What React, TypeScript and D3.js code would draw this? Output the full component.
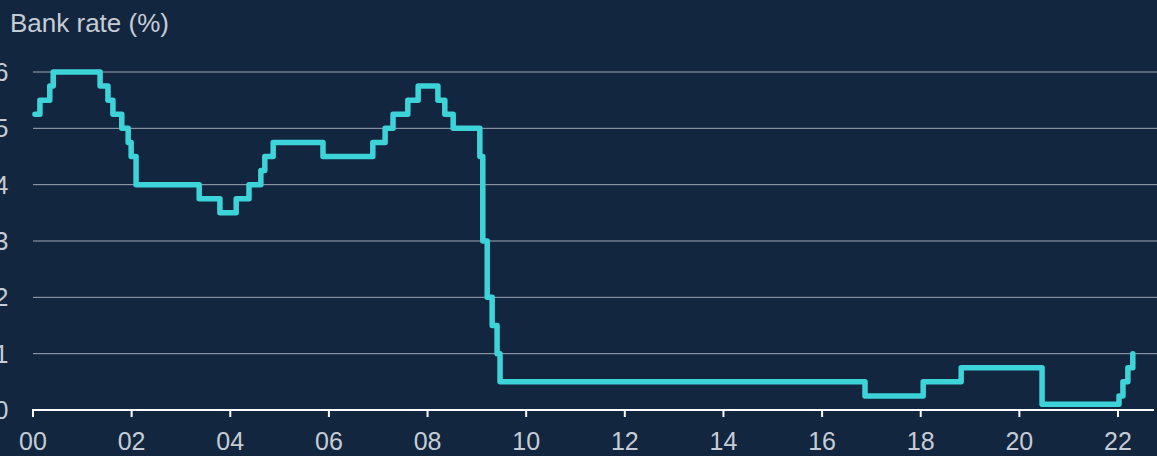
import React from "react";
import * as d3 from "d3";

// Years since 2000 at which the bank rate changed, and the new rate
const changeYears = [0.04, 0.14, 0.34, 0.41, 1.36, 1.52, 1.62, 1.80, 1.93, 1.99, 2.09, 3.37, 3.79, 4.12, 4.38, 4.62, 4.70, 4.87, 5.88, 6.89, 7.14, 7.30, 7.60, 7.81, 8.21, 8.35, 8.52, 9.06, 9.12, 9.21, 9.31, 9.41, 9.47, 16.87, 18.05, 18.82, 20.46, 22.02, 22.10, 22.20, 22.30];
const rates = [5.25, 5.5, 5.75, 6.0, 5.75, 5.5, 5.25, 5.0, 4.75, 4.5, 4.0, 3.75, 3.5, 3.75, 4.0, 4.25, 4.5, 4.75, 4.5, 4.75, 5.0, 5.25, 5.5, 5.75, 5.5, 5.25, 5.0, 4.5, 3.0, 2.0, 1.5, 1.0, 0.5, 0.25, 0.5, 0.75, 0.1, 0.25, 0.5, 0.75, 1.0];
const xTicks = [0, 2, 4, 6, 8, 10, 12, 14, 16, 18, 20, 22];
const xTickLabels = ["00", "02", "04", "06", "08", "10", "12", "14", "16", "18", "20", "22"];
const yTicks = [0, 1, 2, 3, 4, 5, 6];
const title = "Bank rate (%)";

const W = 1157;
const H = 456;
const BG = "#132640";
const TEXT = "#c6ccd4";
const LINE = "#3dd4d9";
const GRID = "#9ea6b2";
const FONT = "'Liberation Sans', Arial, sans-serif";

export default function App() {
  const x = d3.scaleLinear().domain([0, 22]).range([33, 1118]);
  const y = d3.scaleLinear().domain([0, 6]).range([410, 72]);

  const pts: [number, number][] = changeYears.map((t, i) => [t, rates[i]]);
  const line = d3
    .line<[number, number]>()
    .x((d) => x(d[0]))
    .y((d) => y(d[1]))
    .curve(d3.curveStepAfter);

  return (
    <svg
      width={W}
      height={H}
      style={{ position: "absolute", left: 0, top: 0, display: "block" }}
    >
      <rect x={0} y={0} width={W} height={H} fill={BG} />
      <text x={10} y={32} fill={TEXT} fontFamily={FONT} fontSize={26}>
        {title}
      </text>
      {yTicks.filter((v) => v > 0).map((v) => (
        <line key={"g" + v} x1={x(0)} x2={W} y1={y(v)} y2={y(v)} stroke={GRID} strokeWidth={1} />
      ))}
      {yTicks.map((v) => (
        <text
          key={"yl" + v}
          x={8.5}
          y={y(v)}
          dy="0.36em"
          textAnchor="end"
          fill={TEXT}
          fontFamily={FONT}
          fontSize={25}
        >
          {v}
        </text>
      ))}
      <line x1={x(0) - 1} x2={1154} y1={y(0)} y2={y(0)} stroke="#ffffff" strokeWidth={2} />
      {xTicks.map((t, i) => (
        <g key={"xt" + t}>
          <line x1={x(t)} x2={x(t)} y1={y(0)} y2={y(0) + 7} stroke="#ffffff" strokeWidth={2} />
          <text
            x={x(t)}
            y={450}
            textAnchor="middle"
            fill={TEXT}
            fontFamily={FONT}
            fontSize={25}
          >
            {xTickLabels[i]}
          </text>
        </g>
      ))}
      <path
        d={line(pts) || ""}
        fill="none"
        stroke={LINE}
        strokeWidth={5.5}
        strokeLinejoin="round"
        strokeLinecap="round"
      />
    </svg>
  );
}
